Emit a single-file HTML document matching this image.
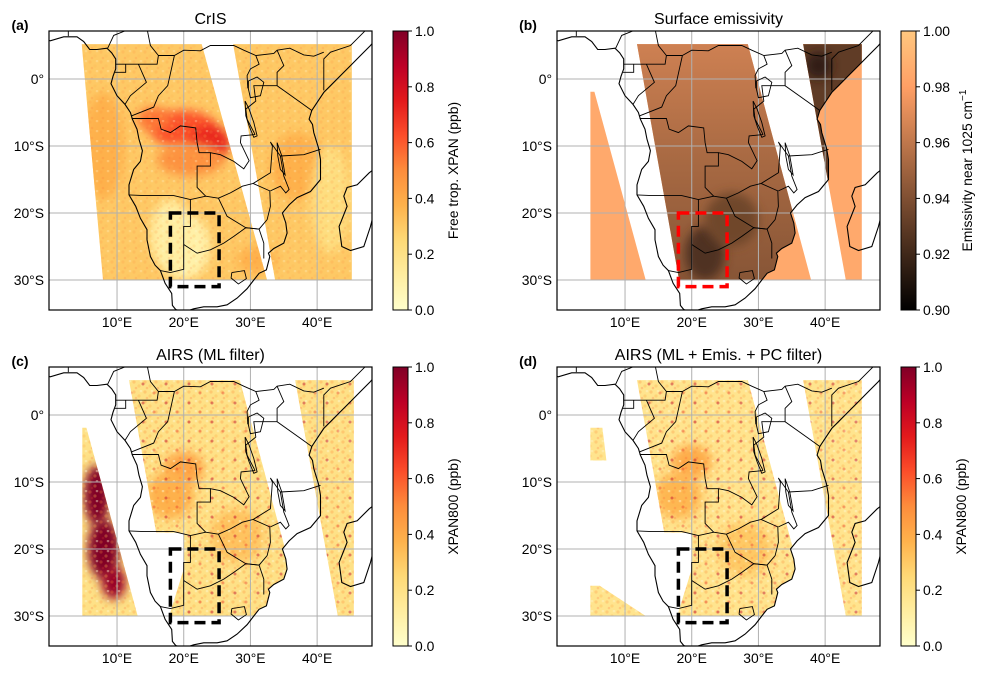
<!DOCTYPE html>
<html><head><meta charset="utf-8"><title>XPAN maps</title>
<style>
html,body{margin:0;padding:0;background:#fff;}
svg{display:block;font-family:"Liberation Sans","DejaVu Sans",sans-serif;}
</style></head>
<body>
<svg id="fig" width="987" height="674" viewBox="0 0 987 674" xmlns="http://www.w3.org/2000/svg">
<defs>
<filter id="blur3" x="-50%" y="-50%" width="200%" height="200%"><feGaussianBlur stdDeviation="5"/></filter>
<linearGradient id="ylorrd" x1="0" y1="1" x2="0" y2="0">
<stop offset="0" stop-color="#ffffcc"/><stop offset="0.125" stop-color="#ffeda0"/><stop offset="0.25" stop-color="#fed976"/><stop offset="0.375" stop-color="#feb24c"/><stop offset="0.5" stop-color="#fd8d3c"/><stop offset="0.625" stop-color="#fc4e2a"/><stop offset="0.75" stop-color="#e31a1c"/><stop offset="0.875" stop-color="#bd0026"/><stop offset="1" stop-color="#800026"/>
</linearGradient>
<linearGradient id="copper" x1="0" y1="1" x2="0" y2="0">
<stop offset="0" stop-color="#000000"/><stop offset="0.8" stop-color="#ff9f65"/><stop offset="1" stop-color="#ffc77f"/>
</linearGradient>
<pattern id="speck" width="11" height="10" patternUnits="userSpaceOnUse">
<circle cx="2" cy="2" r="1.6" fill="#fd8d3c" opacity="0.6"/>
<circle cx="7" cy="6" r="1.6" fill="#feb24c" opacity="0.7"/>
<circle cx="9" cy="1" r="1.3" fill="#fff7d0" opacity="0.9"/>
<circle cx="4" cy="8" r="1.3" fill="#fc4e2a" opacity="0.4"/>
</pattern>
<pattern id="speck2" width="23" height="19" patternUnits="userSpaceOnUse">
<circle cx="5" cy="4" r="1.5" fill="#bd0026" opacity="0.8"/>
<circle cx="16" cy="13" r="1.5" fill="#e31a1c" opacity="0.6"/>
</pattern>
</defs>
</svg>
<script>
// ---------- data ----------
const lonTicks = [10, 20, 30, 40];
const lonTickLabels = ["10°E", "20°E", "30°E", "40°E"];
const latTicks = [0, -10, -20, -30];
const latTickLabels = ["0°", "10°S", "20°S", "30°S"];
const xpanTicks = [0, 0.2, 0.4, 0.6, 0.8, 1.0];
const xpanTickLabels = ["0.0", "0.2", "0.4", "0.6", "0.8", "1.0"];
const emisTicks = [0.90, 0.92, 0.94, 0.96, 0.98, 1.00];
const emisTickLabels = ["0.90", "0.92", "0.94", "0.96", "0.98", "1.00"];
const panelTitles = ["CrIS", "Surface emissivity", "AIRS (ML filter)", "AIRS (ML + Emis. + PC filter)"];
const panelLetters = ["(a)", "(b)", "(c)", "(d)"];
const cbarLabels = ["Free trop. XPAN (ppb)", "Emissivity near 1025 cm", "XPAN800 (ppb)", "XPAN800 (ppb)"];
const studyBox = [18, 25.3, -20, -31];
const crisSwathW = [[4.7,5.2],[22.7,5.2],[32.5,-30],[7.9,-30]];
const crisSwathE = [[27.4,5.2],[45.2,5.2],[45.2,-30],[33.7,-30]];
const airsStripW = [[4.8,-1.9],[5.4,-1.9],[13.1,-30],[4.8,-30]];
const airsSwathM = [[11.8,5.2],[28.4,5.2],[37.9,-30],[18.1,-30]];
const airsSwathE = [[36.7,5.2],[45.5,5.2],[45.5,-30],[43.1,-30]];
const dStripN = [[4.8,-1.9],[6.6,-1.9],[7.2,-6.8],[4.8,-6.8]];
const dStripS = [[4.8,-25.5],[6.2,-25.5],[13.1,-30],[4.8,-30]];
// CrIS hotspots [lon, lat, rLon, rLat, value]
const crisBase = 0.3;
const crisHot = [[20,-7.5,5,2.8,0.62],[24,-9.5,3,2.5,0.72],[15.5,-6,2.5,1.8,0.55],[21,-12,5,2.5,0.48],[37,-13,4,5,0.38],[20,-25,4,5,0.1],[18,-23,3,5,0.12],[42,-18,3,8,0.22],[8,-10,3,8,0.38],[31,-27,3,2,0.38]];
const airsBase = 0.2;
const airsHot = [[7,-12,2,4.5,1.0],[8,-20,2.4,4.5,1.0],[9.5,-25,1.8,2.5,0.95],[20,-8,3,2.5,0.42],[18,-12,3.5,3.5,0.38],[28,-18,4,4,0.32]];
const airsDBase = 0.18;
const airsDHot = [[18,-12,3.5,3.5,0.36],[20,-7,3,2.5,0.4],[28,-20,4,4,0.3]];
const emisOcean = 0.985;
const emisLandN = 0.966;
const emisLandS = 0.94;
const emisEast = 0.93;
const emisDark = [[22,-26,3,4,0.925],[26,-21,4,4,0.935],[39,2,2,2,0.915]];

const africa = [[-1,6.0],[0,5.7],[2,6.3],[4,6.3],[5,5.6],[5.9,4.4],[7,4.4],[8.5,4.6],[9.2,3.9],[9.8,3],[9.8,1.5],[9.4,0.4],[9.1,-0.7],[10,-2.5],[11.2,-3.8],[12,-5],[12.3,-6],[13,-7.5],[13.3,-9],[13.8,-10.7],[13.5,-12.3],[12.5,-13.5],[11.8,-15.8],[11.8,-17.3],[12.8,-19],[13.5,-20.8],[14.5,-22.5],[14.5,-24],[15,-26.5],[15.7,-27.8],[16.5,-28.6],[17.2,-30.5],[18.2,-32],[18.3,-33.8],[18.8,-34.4],[20,-34.8],[21.5,-34.3],[23,-34],[25,-34],[26.5,-33.7],[28,-32.7],[29.5,-31.3],[30.5,-30],[31.3,-29],[32.4,-28.5],[32.9,-26.5],[32.7,-26],[33.5,-25.3],[35,-24.5],[35.5,-23],[35.3,-21.5],[34.8,-20],[35.8,-18.8],[37,-17.7],[39,-16.8],[40.5,-15],[40.5,-12],[40.2,-10.3],[39.5,-8],[39.3,-6.8],[38.8,-6],[39.2,-4.7],[40,-3.5],[41,-2],[42,-1],[43.5,0.5],[45,2],[46.5,3.5],[48,5],[49.5,6.8],[50,9],[-1,9]];
const madagascar = [[43.3,-22],[43.7,-25],[45,-25.6],[47,-25],[48,-22],[49,-18],[50,-15.5],[49.3,-12],[48.5,-13.5],[47.8,-14],[46,-15.8],[44.5,-16.2],[44,-17.5],[44.5,-19],[43.5,-21.5]];
const borders = [
[[9.8,2.2],[11.3,2.2],[13.2,2.2],[16,2.2],[16.2,3.5],[18.6,3.5]],
[[11.3,2.2],[11.3,1],[9.7,1]],
[[13.2,2.2],[14.4,-0.5],[12,-2.5],[11.2,-3.8]],
[[18.6,3.5],[17.6,-1],[16.2,-2.5],[15.5,-4.2],[12.2,-5.5]],
[[12.2,-5.9],[16.2,-5.9],[16.6,-7.5],[18,-8],[19.5,-7],[21.8,-7.3],[22,-9.5],[22.3,-11],[24,-11],[24,-13],[22,-13],[22,-16.2],[23.3,-17.5]],
[[11.8,-17.3],[14,-17.4],[18.5,-17.4],[21,-18],[23.3,-17.5],[25.2,-17.8]],
[[21,-18],[21,-22],[20,-22],[20,-24.7],[20,-28.4],[18,-28.9],[16.5,-28.6]],
[[20,-24.7],[22,-26],[24,-25.5],[26,-24.5],[27.5,-23.5],[29.3,-22.2],[31.3,-22.4]],
[[25.2,-17.8],[27,-17],[28.8,-16],[30.4,-15.6],[32.9,-16.7],[33,-19],[32.5,-21],[31.3,-22.4],[29.3,-22.2],[26.5,-20.5],[25.2,-17.8]],
[[24,-11],[25.5,-11.3],[27.5,-12.3],[29,-13.4],[29.8,-12.2],[28.5,-9.5],[28.6,-8.5],[30.7,-8.3]],
[[30.4,-15.6],[33,-14],[33.3,-10],[33,-9.4],[34.5,-11.5],[35,-14.5],[35.8,-16.5],[35.3,-17],[34.5,-16],[33,-16.7]],
[[34.5,-11.5],[38,-11.3],[40.5,-10.5]],
[[30.7,-8.3],[29.5,-6],[29.3,-4.5],[30.8,-3.3],[30.5,-1],[34,-1],[37.5,-3.5],[39.2,-4.7]],
[[29.6,-1.4],[29.5,0.5],[30,1.5],[31.3,2.2],[30.8,3.5],[33.5,3.8],[34,4.3],[35.9,4.6],[38,3.6],[39.5,3.4],[41,4]],
[[34,-1],[34,1],[35,2],[34,4.3]],
[[41,-1.7],[41,3],[42,4],[45,5],[48,8]],
[[18.6,3.5],[20,4.3],[22.5,4.2],[24,5],[27.5,5],[29,4.3],[30.8,3.5]],
[[16.2,3.5],[15,5],[14.5,7.5]],
[[8.6,4.6],[9.5,6.5],[11.5,7.3],[12,9]],
[[2.7,6.4],[2.7,9]],
[[31.3,-22.4],[32,-24.5],[32,-26.8]],
[[27.2,-28.9],[29.1,-28.6],[29.4,-29.8],[28.2,-30.6],[27.1,-29.7],[27.2,-28.9]]
];
const lakes = [
[[29.7,-0.3],[31,0.3],[32,-0.5],[31.5,-2.5],[30,-2.8],[29.7,-1.5]],
[[29.2,-3.3],[29.8,-4.5],[30.5,-6.5],[31,-8.5],[30.5,-8.7],[29.8,-7],[29.3,-5.5]],
[[34,-9.5],[34.7,-11.5],[35.2,-14.3],[34.5,-13.5],[34.1,-11.5]]
];

// ---------- helpers ----------
const NS = "http://www.w3.org/2000/svg";
const svg = document.getElementById("fig");
const defs = svg.querySelector("defs");
function mk(tag, attrs, parent){ const e=document.createElementNS(NS,tag); for(const k in attrs) e.setAttribute(k,attrs[k]); (parent||svg).appendChild(e); return e; }
const ylStops=["#ffffcc","#ffeda0","#fed976","#feb24c","#fd8d3c","#fc4e2a","#e31a1c","#bd0026","#800026"];
function hex2rgb(h){return [parseInt(h.substr(1,2),16),parseInt(h.substr(3,2),16),parseInt(h.substr(5,2),16)];}
function ylorrd(v){ v=Math.max(0,Math.min(1,v)); const t=v*8, i=Math.min(7,Math.floor(t)), f=t-i; const a=hex2rgb(ylStops[i]), b=hex2rgb(ylStops[i+1]); return "rgb("+a.map((c,j)=>Math.round(c+(b[j]-c)*f)).join(",")+")"; }
function copper(e){ let x=(e-0.9)/0.1; x=Math.max(0,Math.min(1,x)); return "rgb("+Math.round(Math.min(1,1.25*x)*255)+","+Math.round(0.7812*x*255)+","+Math.round(0.4975*x*255)+")"; }

const panels = [{x0:49,y0:31},{x0:557,y0:31},{x0:49,y0:367},{x0:557,y0:367}];
const W=323, H=279, SX=6.67, SY=6.7, LON0=-0.2, LAT0=7.16;
function axes(p){ return { lx: lon=>p.x0+(lon-LON0)*SX, ly: lat=>p.y0+(LAT0-lat)*SY }; }
function pts(a, poly){ return poly.map(q=>a.lx(q[0]).toFixed(1)+","+a.ly(q[1]).toFixed(1)).join(" "); }
let cid=0;
function clipPoly(a, polys){ const id="cp"+(cid++); const c=mk("clipPath",{id:id},defs); polys.forEach(pl=>mk("polygon",{points:pts(a,pl)},c)); return "url(#"+id+")"; }
function hotspots(g, a, list, cmap){
  list.forEach(h=>{
    const e=mk("ellipse",{cx:a.lx(h[0]),cy:a.ly(h[1]),rx:h[2]*SX,ry:h[3]*SY,fill:cmap(h[4]),filter:"url(#blur3)"},g);
    
    
  });
}

panels.forEach((p,pi)=>{
  const a=axes(p);
  const grp=mk("g",{});
  
  
  const fid="fr"+pi; const fc=mk("clipPath",{id:fid},defs); mk("rect",{x:p.x0,y:p.y0,width:W,height:H},fc);
  const inner=mk("g",{"clip-path":"url(#"+fid+")"},grp);
  const landClip=clipPoly(a,[africa]);
  const data=mk("g",{},inner);
  
  
  if(pi===0){
    const g=mk("g",{"clip-path":clipPoly(a,[crisSwathW,crisSwathE])},data);
    mk("rect",{x:p.x0,y:p.y0,width:W,height:H,fill:ylorrd(crisBase)},g);
    hotspots(g,a,crisHot,ylorrd);
    mk("rect",{x:p.x0,y:p.y0,width:W,height:H,fill:"url(#speck)",opacity:0.3},g);
  } else if(pi===1){
    const g=mk("g",{"clip-path":clipPoly(a,[airsStripW,airsSwathM,airsSwathE])},data);
    mk("rect",{x:p.x0,y:p.y0,width:W,height:H,fill:copper(emisOcean)},g);
    const gl=mk("g",{"clip-path":landClip},g);
    const gid="lg"+pi; const lg=mk("linearGradient",{id:gid,x1:0,y1:0,x2:0,y2:1},defs);
    mk("stop",{offset:0,"stop-color":copper(emisLandN)},lg); mk("stop",{offset:0.45,"stop-color":copper((emisLandN+emisLandS)/2)},lg); mk("stop",{offset:1,"stop-color":copper(emisLandS)},lg);
    mk("rect",{x:p.x0,y:p.y0,width:W,height:H,fill:"url(#"+gid+")"},gl);
    const ge=mk("g",{"clip-path":clipPoly(a,[airsSwathE])},gl);
    mk("rect",{x:p.x0,y:p.y0,width:W,height:H,fill:copper(emisEast)},ge);
    hotspots(gl,a,emisDark,copper);
  } else {
    const isD=pi===3;
    const base=isD?airsDBase:airsBase, hot=isD?airsDHot:airsHot;
    const strips=isD?[dStripN,dStripS]:[airsStripW];
    const g1=mk("g",{"clip-path":clipPoly(a,strips)},data);
    mk("rect",{x:p.x0,y:p.y0,width:W,height:H,fill:ylorrd(base)},g1);
    if(!isD) hotspots(g1,a,hot.slice(0,3),ylorrd);
    mk("rect",{x:p.x0,y:p.y0,width:W,height:H,fill:"url(#speck)",opacity:0.45},g1);
    const gm=mk("g",{"clip-path":landClip},data);
    const g2=mk("g",{"clip-path":clipPoly(a,[airsSwathM])},gm);
    const g3=mk("g",{"clip-path":clipPoly(a,[airsSwathE])},data);
    [g2,g3].forEach(g=>{
      mk("rect",{x:p.x0,y:p.y0,width:W,height:H,fill:ylorrd(base)},g);
      hotspots(g,a,isD?hot:hot.slice(3),ylorrd);
      mk("rect",{x:p.x0,y:p.y0,width:W,height:H,fill:"url(#speck)",opacity:0.5},g);
      mk("rect",{x:p.x0,y:p.y0,width:W,height:H,fill:"url(#speck2)",opacity:0.55},g);
    });
    const gap=mk("polygon",{points:pts(a,[[14,-17.5],[20,-17.6],[20,-23],[17.5,-31],[14,-31]]),fill:"#fff"},gm);
    
    
  }
  lonTicks.forEach(t=>{ const l=mk("line",{x1:a.lx(t),x2:a.lx(t),y1:p.y0,y2:p.y0+H,stroke:"#b0b0b0","stroke-width":1},inner);
      });
  latTicks.forEach(t=>{ const l=mk("line",{x1:p.x0,x2:p.x0+W,y1:a.ly(t),y2:a.ly(t),stroke:"#b0b0b0","stroke-width":1},inner);
      });
  const coast=mk("polygon",{points:pts(a,africa),fill:"none",stroke:"#000","stroke-width":1.1},inner);
  
  
  const mad=mk("polygon",{points:pts(a,madagascar),fill:"none",stroke:"#000","stroke-width":1.1},inner);
  
  
  borders.forEach(b=>{ const l=mk("polyline",{points:pts(a,b),fill:"none",stroke:"#000","stroke-width":0.9},inner);
      });
  lakes.forEach(b=>{ const l=mk("polygon",{points:pts(a,b),fill:"none",stroke:"#000","stroke-width":0.9},inner);
      });
  const bx=mk("rect",{x:a.lx(studyBox[0]),y:a.ly(studyBox[2]),width:a.lx(studyBox[1])-a.lx(studyBox[0]),height:a.ly(studyBox[3])-a.ly(studyBox[2]),fill:"none",stroke:pi===1?"#ff0000":"#000","stroke-width":3.5,"stroke-dasharray":"11,6"},inner);
  
  
  const fr=mk("rect",{x:p.x0,y:p.y0,width:W,height:H,fill:"none",stroke:"#000","stroke-width":1.2},grp);
  
  
  lonTicks.forEach((t,i)=>{ const tx=mk("text",{x:a.lx(t),y:p.y0+H+17,"font-size":13.9,"text-anchor":"middle",fill:"#000"},grp); tx.textContent=lonTickLabels[i];
      });
  latTicks.forEach((t,i)=>{ const tx=mk("text",{x:p.x0-5,y:a.ly(t)+5,"font-size":13.9,"text-anchor":"end",fill:"#000"},grp); tx.textContent=latTickLabels[i];
      });
  const ti=mk("text",{x:p.x0+W/2,y:p.y0-7,"font-size":16,"text-anchor":"middle",fill:"#000"},grp); ti.textContent=panelTitles[pi];
   
  const le=mk("text",{x:p.x0-29,y:p.y0-1,"font-size":13.9,"font-weight":"bold","text-anchor":"middle",fill:"#000"},grp); le.textContent=panelLetters[pi];
   
  const cx=p.x0+344, cw=15;
  const isE=pi===1;
  const cb=mk("rect",{x:cx,y:p.y0,width:cw,height:H,fill:isE?"url(#copper)":"url(#ylorrd)",stroke:"#000","stroke-width":1},grp);
  
  
  const ticks=isE?emisTicks:xpanTicks, labs=isE?emisTickLabels:xpanTickLabels;
  const vmin=isE?0.9:0, vmax=1.0;
  ticks.forEach((t,i)=>{ const y=p.y0+H-(t-vmin)/(vmax-vmin)*H;
    mk("line",{x1:cx+cw,x2:cx+cw+4,y1:y,y2:y,stroke:"#000","stroke-width":1},grp);
    const tx=mk("text",{x:cx+cw+7,y:y+5,"font-size":13.9,fill:"#000"},grp); tx.textContent=labs[i];
      });
  const lx=cx+(isE?cw+56:cw+50), lyc=p.y0+H/2;
  const cl=mk("text",{x:lx,y:lyc,"font-size":13.9,"text-anchor":"middle",fill:"#000",transform:"rotate(-90 "+lx+" "+lyc+")"},grp);
  cl.textContent=cbarLabels[pi];
  if(isE){ const sp=mk("tspan",{"font-size":10,dy:-6},cl); sp.textContent="−1"; }
  
  
});
</script>
</body></html>
